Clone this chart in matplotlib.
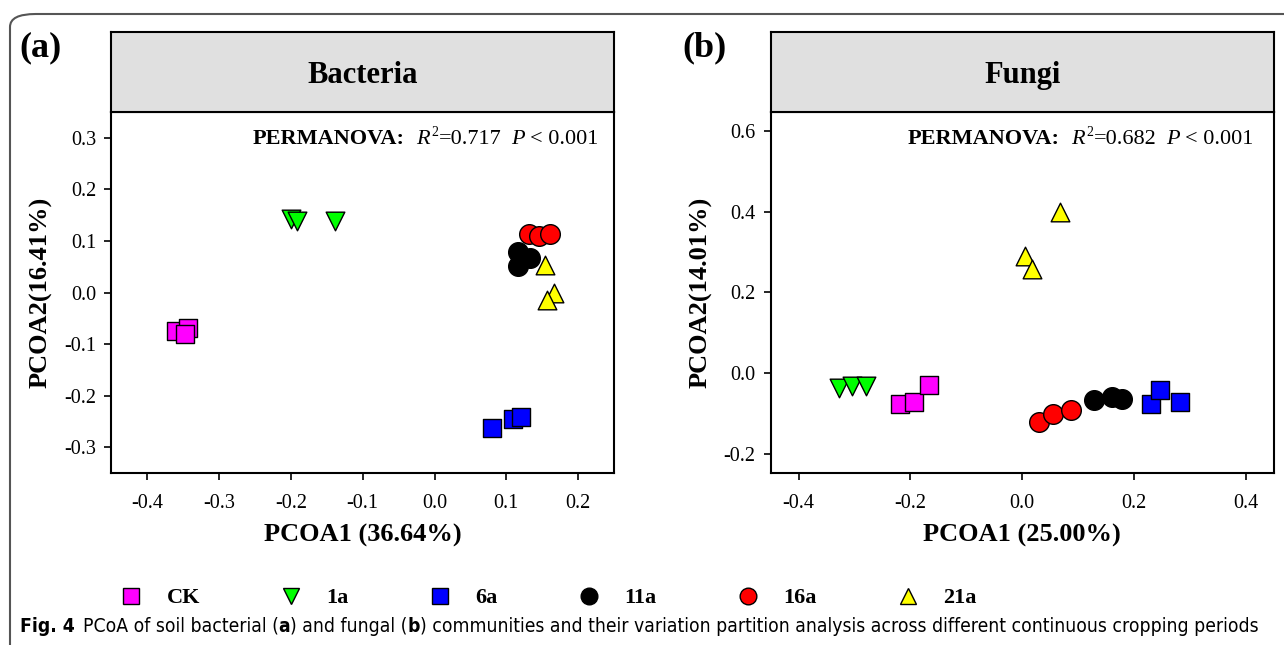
import matplotlib
matplotlib.use("Agg")
import matplotlib.pyplot as plt
from matplotlib.patches import FancyBboxPatch
from matplotlib.lines import Line2D

plt.rcParams["font.family"] = ["Liberation Serif", "DejaVu Serif"]

groups = ["CK", "1a", "6a", "11a", "16a", "21a"]
colors = ["#ff00ff", "#00ff00", "#0000ff", "#000000", "#ff0000", "#ffff00"]
markers = ["s", "v", "s", "o", "o", "^"]
sizes = [170, 180, 170, 200, 200, 180]

# bacteria PCoA scores (3 replicates per group)
bac_x = {
    "CK": [-0.360, -0.344, -0.347],
    "1a": [-0.200, -0.192, -0.139],
    "6a": [0.080, 0.110, 0.121],
    "11a": [0.116, 0.133, 0.116],
    "16a": [0.132, 0.146, 0.161],
    "21a": [0.154, 0.167, 0.157],
}
bac_y = {
    "CK": [-0.075, -0.068, -0.081],
    "1a": [0.142, 0.139, 0.138],
    "6a": [-0.263, -0.246, -0.241],
    "11a": [0.079, 0.067, 0.051],
    "16a": [0.113, 0.109, 0.113],
    "21a": [0.054, -0.001, -0.014],
}

# fungi PCoA scores
fun_x = {
    "CK": [-0.218, -0.194, -0.166],
    "1a": [-0.328, -0.305, -0.279],
    "6a": [0.231, 0.246, 0.283],
    "11a": [0.129, 0.161, 0.179],
    "16a": [0.031, 0.056, 0.088],
    "21a": [0.068, 0.005, 0.018],
}
fun_y = {
    "CK": [-0.076, -0.072, -0.029],
    "1a": [-0.037, -0.033, -0.033],
    "6a": [-0.078, -0.041, -0.072],
    "11a": [-0.068, -0.060, -0.064],
    "16a": [-0.122, -0.102, -0.091],
    "21a": [0.400, 0.290, 0.259],
}

bac_stats = ["0.717", "< 0.001"]
fun_stats = ["0.682", "< 0.001"]

caption_parts = [
    ("Fig. 4", "bold", 8),
    ("PCoA of soil bacterial (", "normal", 0),
    ("a", "bold", 0),
    (") and fungal (", "normal", 0),
    ("b", "bold", 0),
    (") communities and their variation partition analysis across different "
     "continuous cropping periods", "normal", 0),
]

fig = plt.figure(figsize=(12.84, 6.45), dpi=100)
fig.canvas.draw()
rend = fig.canvas.get_renderer()

# outer rounded frame
frame = FancyBboxPatch((10 / 1284, -0.1), 1.2, (645 - 14) / 645 + 0.1,
                       boxstyle="round,pad=0,rounding_size=0.02",
                       transform=fig.transFigure, fill=False,
                       edgecolor="#555555", linewidth=1.5)
fig.patches.append(frame)


def run_text(x, y, pieces):
    # pieces: (text, kwargs, gap_after, raise_px)
    for txt, kw, gap, up in pieces:
        t = fig.text(x / 1284, (645 - y + up) / 645, txt, va="center", **kw)
        bb = t.get_window_extent(renderer=rend)
        x = bb.x1 + gap


def panel(left, right, xs, ys, xlim, ylim, xticks, yticks, title, xlab, ylab,
          stats, stat_x, tag, tag_x):
    bottom = (645 - 473) / 645
    top = (645 - 112) / 645
    htop = (645 - 32) / 645
    ax = fig.add_axes([left, bottom, right - left, top - bottom])
    hd = fig.add_axes([left, top, right - left, htop - top])
    hd.set_facecolor("#e0e0e0")
    hd.set_xticks([])
    hd.set_yticks([])
    for s in hd.spines.values():
        s.set_linewidth(1.5)
    hd.text(0.5, 0.46, title, ha="center", va="center", fontsize=22,
            fontweight="bold", transform=hd.transAxes)

    for g, c, m, sz in zip(groups, colors, markers, sizes):
        ax.scatter(xs[g], ys[g], s=sz, c=c, marker=m, edgecolors="black",
                   linewidths=1.0, zorder=3)
    ax.set_xlim(xlim)
    ax.set_ylim(ylim)
    ax.set_xticks(xticks)
    ax.set_yticks(yticks)
    ax.set_xticklabels([f"{t:.1f}" for t in xticks])
    ax.set_yticklabels([f"{t:.1f}" for t in yticks])
    ax.tick_params(labelsize=14.5, length=5, width=1.2, direction="out", pad=6)
    ax.tick_params(axis="x", pad=10)
    for s in ax.spines.values():
        s.set_linewidth(1.5)
    ax.set_xlabel(xlab, fontsize=19, fontweight="bold", labelpad=8)
    ax.set_ylabel(ylab, fontsize=19, fontweight="bold", labelpad=8)

    fs = 16
    run_text(stat_x, 139, [
        ("PERMANOVA:", dict(fontsize=fs, fontweight="bold"), 11, 0),
        ("R", dict(fontsize=fs, style="italic"), 2, 0),
        ("2", dict(fontsize=fs * 0.62), 0, 6),
        ("=" + stats[0], dict(fontsize=fs), 10, 0),
        ("P", dict(fontsize=fs, style="italic"), 5, 0),
        (stats[1], dict(fontsize=fs), 0, 0),
    ])
    fig.text(tag_x, (645 - 48) / 645, tag, fontsize=26, fontweight="bold",
             va="center", ha="left")
    return ax


panel(111.4 / 1284, 614 / 1284, bac_x, bac_y, (-0.45, 0.25), (-0.35, 0.35),
      [-0.4, -0.3, -0.2, -0.1, 0.0, 0.1, 0.2],
      [-0.3, -0.2, -0.1, 0.0, 0.1, 0.2, 0.3],
      "Bacteria", "PCOA1 (36.64%)", "PCOA2(16.41%)",
      bac_stats, 253, "(a)", 19 / 1284)

panel(770.6 / 1284, 1273.7 / 1284, fun_x, fun_y, (-0.45, 0.45), (-0.248, 0.647),
      [-0.4, -0.2, 0.0, 0.2, 0.4],
      [-0.2, 0.0, 0.2, 0.4, 0.6],
      "Fungi", "PCOA1 (25.00%)", "PCOA2(14.01%)",
      fun_stats, 908, "(b)", 682 / 1284)

handles = [Line2D([], [], linestyle="none", marker=m, markerfacecolor=c,
                  markeredgecolor="black", markersize=12)
           for m, c in zip(markers, colors)]
leg = fig.legend(handles, groups, loc="center left", ncol=6, frameon=False,
                 bbox_to_anchor=(100 / 1284, (645 - 598) / 645),
                 prop={"weight": "bold", "size": 16}, handletextpad=1.1,
                 columnspacing=3.6, handlelength=1.0)

# caption, placed piece by piece
run_text(20, 626, [
    (txt, dict(fontsize=13.9, fontweight=wt, family="DejaVu Sans",
               fontstretch="condensed"), gap, 0)
    for txt, wt, gap in caption_parts
])

fig.savefig("out.png", dpi=100)
